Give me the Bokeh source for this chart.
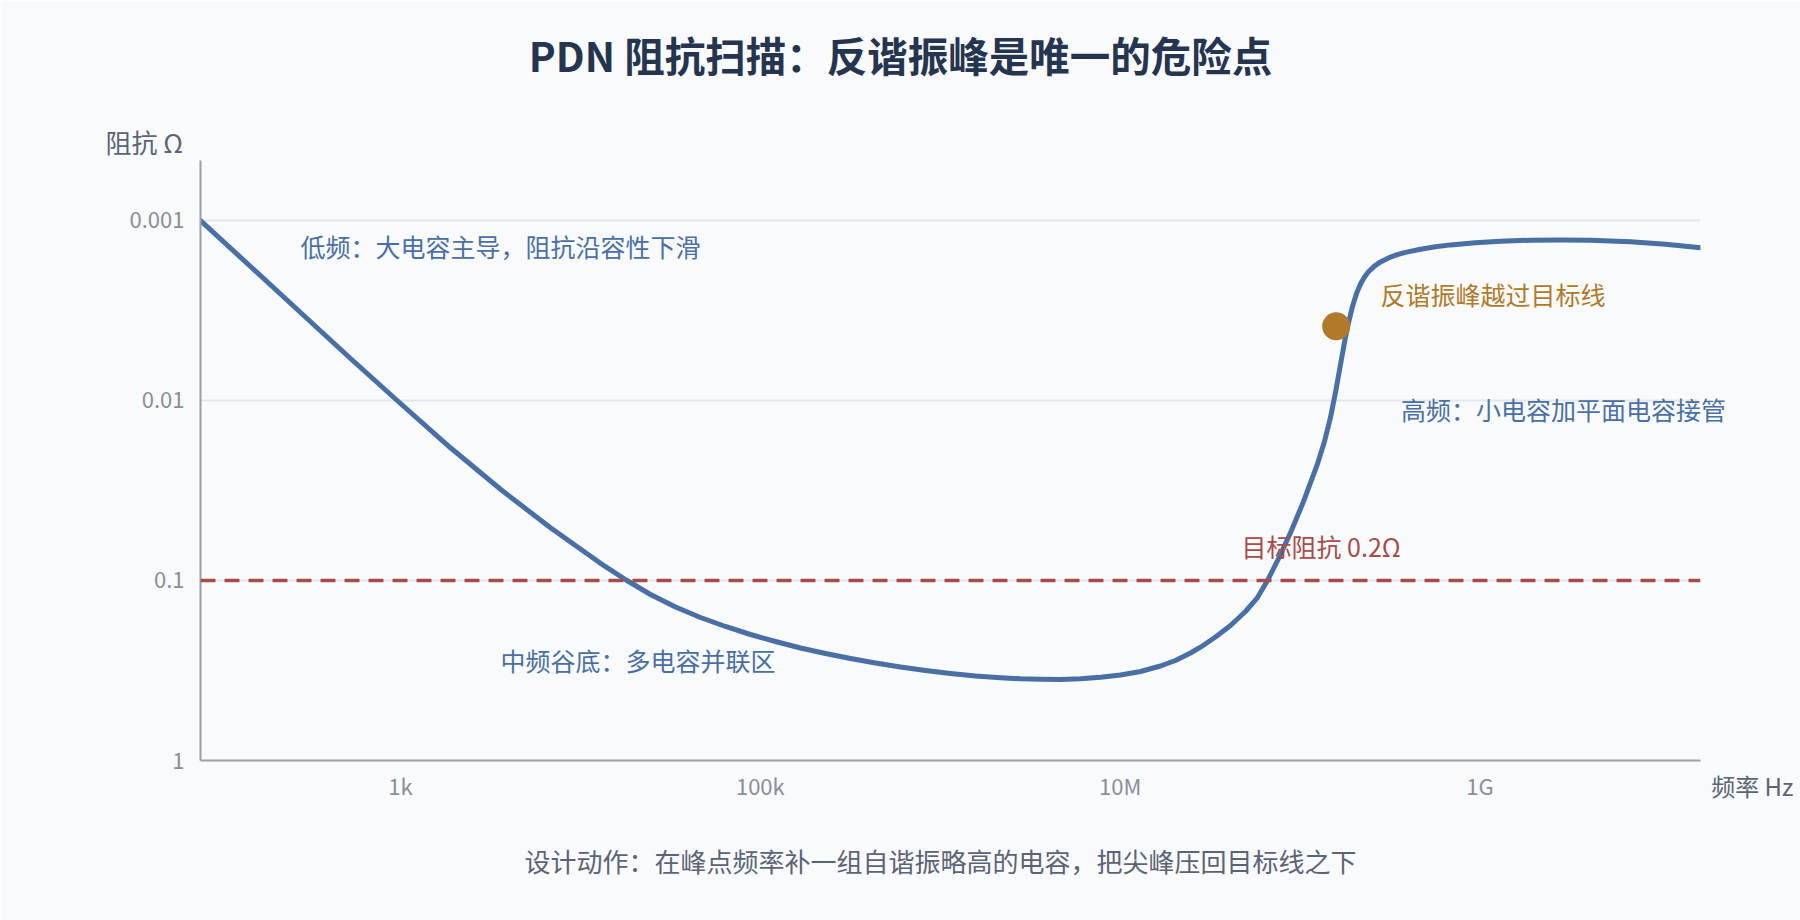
from bokeh.plotting import figure
from bokeh.models import Range1d, FixedTicker, CustomJSTickFormatter, Span, Label
from bokeh.embed import file_html
from bokeh.resources import INLINE

# ---------------- data ----------------
freq_hz = [77.27, 146.5, 277.9, 527.0, 999.4, 1895, 3594, 6816, 12925, 18030,
           24510, 33760, 46490, 64020, 88160, 121400, 167200, 230200, 317000, 436600,
           601300, 827900, 1.1403e6, 1.570e6, 2.162e6, 2.793e6, 3.608e6, 4.661e6, 6.020e6, 7.778e6,
           1.0044e7, 1.2975e7, 1.676e7, 2.030e7, 2.461e7, 2.796e7, 3.388e7, 4.106e7, 4.975e7, 5.800e7,
           6.594e7, 7.591e7, 8.850e7, 1.0451e8, 1.2505e8, 1.3677e8, 1.4766e8, 1.5740e8, 1.6788e8, 1.7665e8,
           1.8592e8, 1.9568e8, 2.0593e8, 2.1677e8, 2.2816e8, 2.4015e8, 2.5926e8, 2.800e8, 3.1014e8, 3.4366e8,
           3.8567e8, 4.6731e8, 5.660e8, 6.863e8, 9.4465e8, 1.3009e9, 1.9099e9, 2.8038e9, 4.116e9, 6.869e9,
           1.075e10, 1.683e10]
impedance_ohm = [0.001, 0.001801, 0.003244, 0.005843, 0.010391, 0.018314, 0.031135, 0.05096, 0.08024, 0.0997,
                 0.11962, 0.14035, 0.16049, 0.18007, 0.19953, 0.21823, 0.23714, 0.25438, 0.27132, 0.28738,
                 0.30236, 0.31623, 0.32862, 0.33931, 0.34721, 0.35167, 0.35393, 0.35481, 0.35167, 0.3450,
                 0.33497, 0.32030, 0.29854, 0.27826, 0.25275, 0.23473, 0.20599, 0.17783, 0.14867, 0.12431,
                 0.1, 0.075585, 0.054325, 0.036446, 0.022474, 0.016876, 0.012412, 0.0090157, 0.0063017, 0.0047569,
                 0.0037010, 0.0030004, 0.002547, 0.0022532, 0.0020599, 0.0019275, 0.0017915, 0.0016982, 0.0016135, 0.0015528,
                 0.0015039, 0.0014435, 0.0013999, 0.0013662, 0.0013283, 0.0013032, 0.0012865, 0.0012816, 0.0012865, 0.0013131,
                 0.0013558, 0.0014180]
peak_freq = [1.588e8]
peak_z = [0.00387]
target_z = 0.1

x_tick_vals = [1e3, 1e5, 1e7, 1e9]
x_tick_labels = ["1k", "100k", "10M", "1G"]
y_tick_vals = [0.001, 0.01, 0.1, 1]
y_tick_labels = ["0.001", "0.01", "0.1", "1"]

title_text = "PDN 阻抗扫描：反谐振峰是唯一的危险点"
y_title = "阻抗 Ω"
x_title = "频率 Hz"
note_text = "设计动作：在峰点频率补一组自谐振略高的电容，把尖峰压回目标线之下"
ann_low = "低频：大电容主导，阻抗沿容性下滑"
ann_mid = "中频谷底：多电容并联区"
ann_high = "高频：小电容加平面电容接管"
ann_peak = "反谐振峰越过目标线"
ann_target = "目标阻抗 0.2Ω"

# ---------------- style ----------------
FONT = "Noto Sans CJK SC"
BG = "#f8fafc"
LINE_C = "#4a6fa5"
PEAK_C = "#b07a2a"
TARGET_C = "#a84c48"
AXIS_C = "#9aa0aa"
TICK_C = "#8a8f99"
SLATE = "#5b6475"

p = figure(width=1800, height=920, x_axis_type="log", y_axis_type="log",
           x_range=Range1d(10 ** 1.888, 10 ** 10.226),
           y_range=Range1d(1, 10 ** -3.3333),
           output_backend="svg", toolbar_location=None,
           min_border_left=200, min_border_right=100,
           min_border_top=160, min_border_bottom=160)
p.background_fill_color = BG
p.border_fill_color = BG
p.outline_line_color = None

fmt_code = """
const i = vals.findIndex(v => Math.abs(Math.log10(v) - Math.log10(tick)) < 1e-6);
return i >= 0 ? labs[i] : '';
"""
p.xaxis.ticker = FixedTicker(ticks=x_tick_vals)
p.xaxis.formatter = CustomJSTickFormatter(args=dict(vals=x_tick_vals, labs=x_tick_labels), code=fmt_code)
p.yaxis.ticker = FixedTicker(ticks=y_tick_vals)
p.yaxis.formatter = CustomJSTickFormatter(args=dict(vals=y_tick_vals, labs=y_tick_labels), code=fmt_code)

for ax in (p.xaxis, p.yaxis):
    ax.axis_line_color = AXIS_C
    ax.axis_line_width = 2
    ax.major_tick_line_color = None
    ax.minor_tick_line_color = None
    ax.major_tick_out = 0
    ax.major_tick_in = 0
    ax.minor_tick_out = 0
    ax.major_label_text_color = TICK_C
    ax.major_label_text_font = FONT
    ax.major_label_text_font_size = "22px"
p.xaxis.major_label_standoff = 8
p.yaxis.major_label_standoff = 16

p.xgrid.grid_line_color = None
p.ygrid.ticker = FixedTicker(ticks=y_tick_vals[:-1])
p.ygrid.grid_line_color = "#e2e8f0"
p.ygrid.grid_line_width = 2

# target line
p.add_layout(Span(location=target_z, dimension="width", line_color=TARGET_C,
                  line_width=3.5, line_dash="15 9"))

# impedance curve and the anti-resonance peak marker
p.line(freq_hz, impedance_ohm, line_color=LINE_C, line_width=5,
       line_join="round", line_cap="round")
p.scatter(peak_freq, peak_z, size=28, fill_color=PEAK_C, line_color=None)


def lab(text, x, y, color, size, align="left", bold=False, units="screen", place=None):
    l = Label(x=x, y=y, x_units=units, y_units=units, text=text,
              text_color=color, text_font=FONT, text_font_size=size,
              text_align=align, text_baseline="middle",
              text_font_style="bold" if bold else "normal")
    if place is None:
        p.add_layout(l)
    else:
        p.add_layout(l, place)


# texts inside the frame (screen px from frame left / frame bottom)
lab(ann_low, 100, 515, LINE_C, "25px")
lab(ann_peak, 1180, 467, PEAK_C, "25px")
lab(ann_target, 1041, 215, TARGET_C, "25px")
lab(ann_mid, 300, 101, LINE_C, "25px")

# texts reaching outside the frame: side panels (not clipped), placed in data coordinates
lab(ann_high, 3.64e8, 0.011148, LINE_C, "25px", units="data", place="above")
lab(y_title, 22.9, 3.626e-4, SLATE, "26px", units="data", place="above")
lab(title_text, 6.013e5, 1.2036e-4, "#26354f", "40.5px", align="center", bold=True,
    units="data", place="above")
lab(x_title, 1.93e10, 1.377, SLATE, "24px", units="data", place="below")
lab(note_text, 1.003e6, 3.594, SLATE, "26px", align="center", units="data", place="below")

open("out.html", "w").write(file_html(p, INLINE))
